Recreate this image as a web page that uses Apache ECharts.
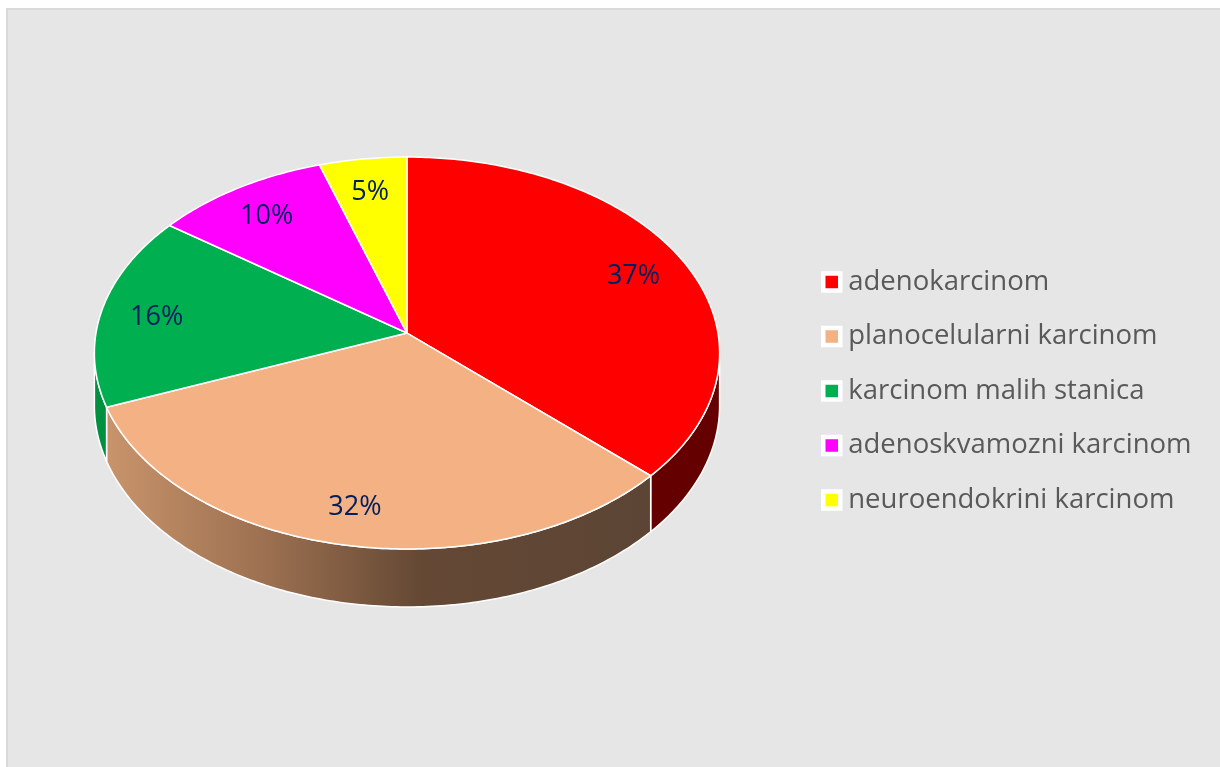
<!DOCTYPE html>
<html><head><meta charset="utf-8">
<script src="https://cdn.jsdelivr.net/npm/echarts@6/dist/echarts.min.js"></script>
<style>html,body{margin:0;padding:0;background:#fff}#c{width:1220px;height:767px}</style>
</head><body><div id="c"></div>
<script>
// ---- data ----
const categories = ['adenokarcinom', 'planocelularni karcinom', 'karcinom malih stanica', 'adenoskvamozni karcinom', 'neuroendokrini karcinom'];
const values = [37, 32, 16, 10, 5];
const labelTexts = ['37%', '32%', '16%', '10%', '5%'];

// ---- style ----
const topColors = ['#ff0000', '#f4b183', '#00b050', '#ff00ff', '#ffff00'];
const sideColors = ['#640000', 'gradient', '#00903f', '#b000b0', '#b5b500'];

const total = values.reduce((a, b) => a + b, 0);
const cumulative = values.map((v, i) => values.slice(0, i).reduce((a, b) => a + b, 0));

// perspective parameters of the tilted disc
const C = 0.102, S = 0.6236, DEPTH = 0.1675, LABEL_R = 0.82, LABEL_DY = 4;
const T_LEFT = Math.acos(-C), T_RIGHT = 2 * Math.PI - Math.acos(-C);

function renderItem(params, api) {
  const W = api.getWidth(), H = api.getHeight();
  const cx = W * 0.3336, cy = H * 0.4342, R = W * 0.2549;
  const idx = params.seriesIndex;
  const s0 = api.value(0), v = api.value(1);
  const a0 = s0 / total * 2 * Math.PI, a1 = (s0 + v) / total * 2 * Math.PI;
  function P(t, r, drop) {
    const u = r * Math.sin(t), w = -r * Math.cos(t);
    const d = 1 + C * r * Math.cos(t);
    return [cx + R * u / d, cy + R * (S * w + drop) / d];
  }
  function arc(t0, t1, drop) {
    const n = Math.max(2, Math.ceil((t1 - t0) / (Math.PI / 240)));
    const pts = [];
    for (let k = 0; k <= n; k++) pts.push(P(t0 + (t1 - t0) * k / n, 1, drop));
    return pts;
  }
  const children = [];
  // side wall
  const sa = Math.max(a0, T_LEFT), sb = Math.min(a1, T_RIGHT);
  if (sb > sa) {
    const topArc = arc(sa, sb, 0);
    const botArc = arc(sa, sb, DEPTH).reverse();
    let fill = sideColors[idx];
    if (fill === 'gradient') {
      fill = new echarts.graphic.LinearGradient(0, 0, 1, 0, [
        { offset: 0, color: '#c8946b' },
        { offset: 0.3, color: '#9b6f50' },
        { offset: 0.58, color: '#644834' },
        { offset: 1, color: '#5c4535' }
      ]);
    }
    children.push({
      type: 'polygon', z2: 1,
      shape: { points: topArc.concat(botArc) },
      style: { fill: fill, stroke: '#ffffff', lineWidth: 1.5, lineJoin: 'round' }
    });
  }
  // top face
  const topPts = [[cx, cy]].concat(arc(a0, a1, 0));
  children.push({
    type: 'polygon', z2: 5,
    shape: { points: topPts },
    style: { fill: api.visual('color'), stroke: '#ffffff', lineWidth: 1.5, lineJoin: 'round' }
  });
  // label
  const mid = (a0 + a1) / 2;
  const lp = P(mid, LABEL_R, 0);
  children.push({
    type: 'text', z2: 10,
    style: {
      x: lp[0], y: lp[1] + LABEL_DY, text: labelTexts[idx],
      fill: '#002060', fontSize: 27, fontFamily: '"Open Sans", sans-serif',
      align: 'center', verticalAlign: 'middle'
    }
  });
  return { type: 'group', children: children };
}

const chart = echarts.init(document.getElementById('c'), null, { renderer: 'canvas' });
chart.setOption({
  backgroundColor: '#ffffff',
  animation: false,
  graphic: [{
    type: 'rect', z: -10, silent: true,
    shape: { x: 7, y: 9, width: 1300, height: 900 },
    style: { fill: '#e6e6e6', stroke: '#d9d9d9', lineWidth: 2 }
  }],
  legend: {
    orient: 'vertical', left: 816, top: 262,
    itemWidth: 17, itemHeight: 17, itemGap: 24.5, icon: 'rect',
    itemStyle: { borderColor: '#ffffff', borderWidth: 4.5 },
    textStyle: { fontFamily: '"Open Sans", sans-serif', fontSize: 27.5, color: '#595959', lineHeight: 30, padding: [0, 0, 0, 3] },
    data: categories
  },
  series: categories.map((name, i) => ({
    type: 'custom', name: name, coordinateSystem: 'none',
    itemStyle: { color: topColors[i] },
    data: [[cumulative[i], values[i]]],
    renderItem: renderItem
  }))
});
</script></body></html>
